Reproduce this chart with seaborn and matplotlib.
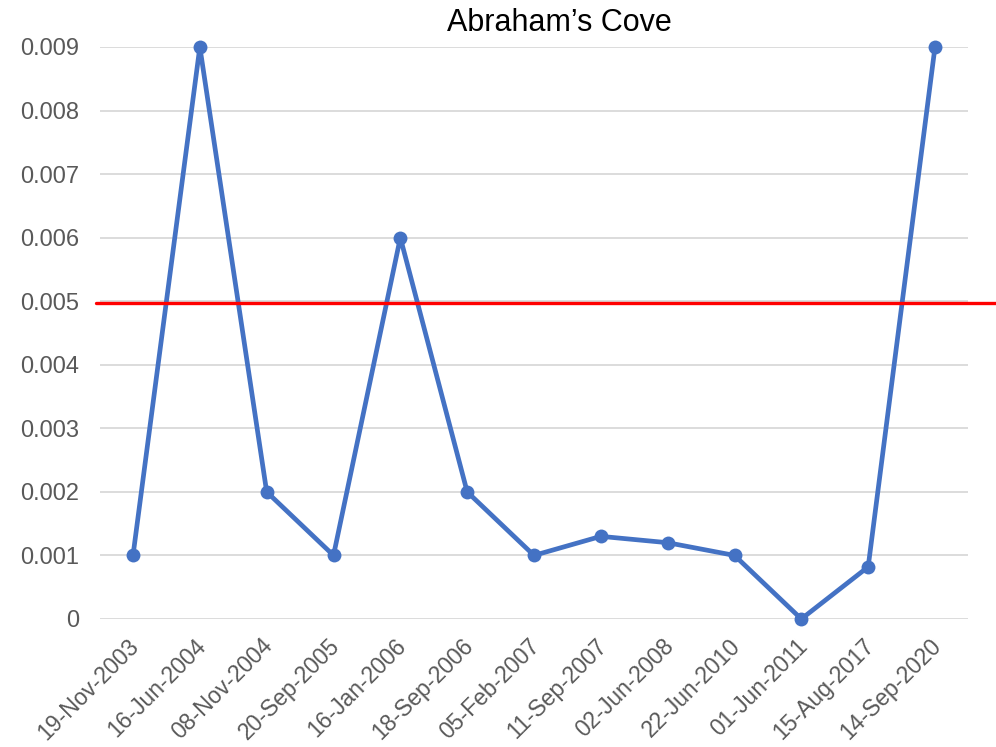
import matplotlib
matplotlib.use("Agg")
import matplotlib.pyplot as plt
import matplotlib.transforms as mtransforms
import seaborn as sns
import pandas as pd

dates = ["19-Nov-2003", "16-Jun-2004", "08-Nov-2004", "20-Sep-2005", "16-Jan-2006",
         "18-Sep-2006", "05-Feb-2007", "11-Sep-2007", "02-Jun-2008", "22-Jun-2010",
         "01-Jun-2011", "15-Aug-2017", "14-Sep-2020"]
values = [0.001, 0.009, 0.002, 0.001, 0.006, 0.002, 0.001, 0.0013, 0.0012, 0.001,
          0.0, 0.00082, 0.009]
threshold = 0.00497
yticks = [0, 0.001, 0.002, 0.003, 0.004, 0.005, 0.006, 0.007, 0.008, 0.009]
ytick_labels = ["0", "0.001", "0.002", "0.003", "0.004", "0.005", "0.006", "0.007", "0.008", "0.009"]

sns.set_theme(style="white")
plt.rcParams['font.family'] = ['Liberation Sans', 'DejaVu Sans']

df = pd.DataFrame({"date": dates, "value": values, "idx": range(len(dates))})

fig = plt.figure(figsize=(9.96, 7.47), dpi=100)
ax = fig.add_axes([0.1, 0.1714, 0.8723, 0.7657])

sns.lineplot(data=df, x="idx", y="value", ax=ax, color="#4472C4", linewidth=3.4,
             marker="o", markersize=10, markeredgewidth=0, sort=False, zorder=3)
for ln in ax.lines:
    ln.set_clip_on(False)

ax.set_xlim(-0.5, len(dates) - 0.5)
ax.set_ylim(0, 0.009)
ax.set_yticks(yticks)
ax.set_yticklabels(ytick_labels, fontsize=17, color="#595959")
ax.set_xticks(range(len(dates)))
ax.set_xticklabels(dates, rotation=45, ha="right", rotation_mode="anchor",
                   fontsize=16.5, color="#595959")
ax.tick_params(axis="y", length=0, pad=15)
ax.tick_params(axis="x", length=0, pad=11)
shift = mtransforms.ScaledTranslation(-0.055, 0, fig.dpi_scale_trans)
for lbl in ax.get_xticklabels():
    lbl.set_transform(lbl.get_transform() + shift)
ax.yaxis.grid(True, color="#D9D9D9", linewidth=1.3)
ax.set_axisbelow(True)
for s in ax.spines.values():
    s.set_visible(False)
ax.set_xlabel("")
ax.set_ylabel("")

# threshold line extending to the right figure edge
ax_left_px = 0.1 * 996
ax_w_px = 0.8723 * 996
xmax = (996 - ax_left_px) / ax_w_px
ax.axhline(threshold, xmin=-0.004, xmax=xmax, color="#FF0000", linewidth=2.4,
           clip_on=False, zorder=4)

fig.text(0.5615, 0.969, "Abraham\u2019s Cove", ha="center", va="center", fontsize=22, color="black")

fig.savefig("out.png", dpi=100)
